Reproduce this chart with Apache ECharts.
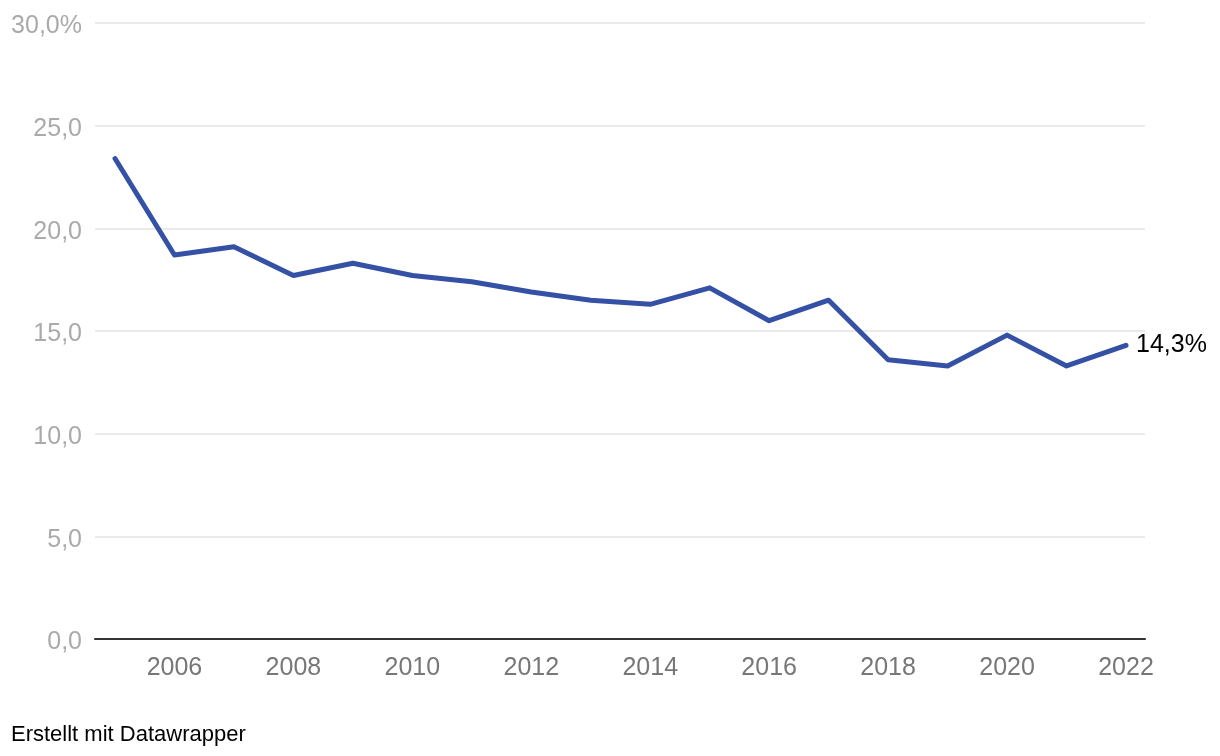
<!DOCTYPE html>
<html>
<head>
<meta charset="utf-8">
<script src="https://cdn.jsdelivr.net/npm/echarts@6/dist/echarts.min.js"></script>
<style>
html,body{margin:0;padding:0;background:#fff;}
#chart{width:1220px;height:756px;}
</style>
</head>
<body>
<div id="chart"></div>
<script>
const years = [2005,2006,2007,2008,2009,2010,2011,2012,2013,2014,2015,2016,2017,2018,2019,2020,2021,2022];
const values = [23.4,18.7,19.1,17.7,18.3,17.7,17.4,16.9,16.5,16.3,17.1,15.5,16.5,13.6,13.3,14.8,13.3,14.3];
const yTicks = [0,5,10,15,20,25,30];
const footer = 'Erstellt mit Datawrapper';

const FONT = '"Liberation Sans", Arial, sans-serif';
const fmt = v => v.toFixed(1).replace('.', ',');
const yMin = yTicks[0], yMax = yTicks[yTicks.length-1];

const chart = echarts.init(document.getElementById('chart'), null, {renderer:'canvas'});
chart.setOption({
  animation: false,
  backgroundColor: '#fff',
  title: {
    text: footer, left: 6, top: 719,
    textStyle: {fontFamily: FONT, fontSize: 22, fontWeight: 'normal', color: '#000'}
  },
  grid: [
    {left: 95, right: 75, top: 23, bottom: 117, containLabel: false},
    {left: 115, right: 94, top: 23, bottom: 117, containLabel: false}
  ],
  xAxis: [{
    gridIndex: 0, type: 'value', min: 0, max: 1,
    axisLine: {show: true, lineStyle: {color: '#333', width: 2}},
    axisTick: {show: false}, splitLine: {show: false}, axisLabel: {show: false}
  }, {
    gridIndex: 1, type: 'value',
    min: years[0], max: years[years.length-1], interval: 1,
    axisLine: {show: false},
    axisTick: {show: false},
    splitLine: {show: false},
    axisLabel: {
      margin: 17,
      fontFamily: FONT, fontSize: 25, color: '#777',
      formatter: v => (Math.round(v) % 2 === 0) ? String(Math.round(v)) : ''
    }
  }],
  yAxis: [{
    gridIndex: 0, type: 'value',
    min: yMin, max: yMax, interval: 5,
    axisLine: {show: false},
    axisTick: {show: false},
    splitLine: {lineStyle: {color: '#e3e3e3', width: 1.5}},
    axisLabel: {
      margin: 13, verticalAlign: 'top', lineHeight: 7,
      fontFamily: FONT, fontSize: 25, color: '#aaa',
      formatter: v => v === yMax ? fmt(v) + '%' : fmt(v)
    }
  }, {
    gridIndex: 1, type: 'value', min: yMin, max: yMax, interval: 5,
    show: false
  }],
  series: [{
    type: 'line',
    xAxisIndex: 1, yAxisIndex: 1,
    data: years.map((y, i) => [y, values[i]]),
    showSymbol: false,
    symbol: 'none',
    lineStyle: {color: '#3451a6', width: 5, cap: 'round', join: 'round'},
    itemStyle: {color: '#3451a6'},
    endLabel: {
      show: true,
      distance: 10,
      fontFamily: FONT, fontSize: 25, color: '#000',
      formatter: p => fmt(p.value[1]) + '%'
    }
  }]
});
</script>
</body>
</html>
